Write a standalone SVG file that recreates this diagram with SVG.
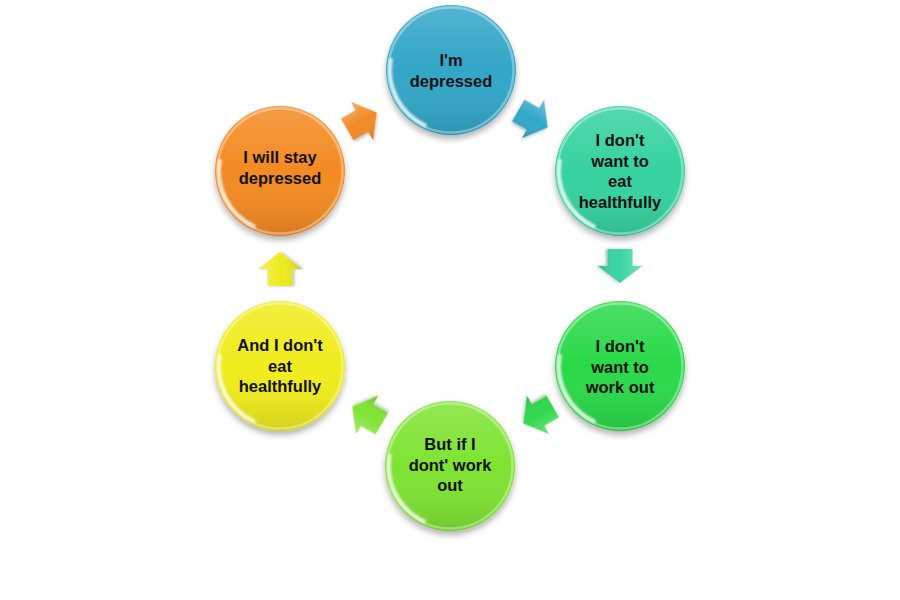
<svg xmlns="http://www.w3.org/2000/svg" width="900" height="600" viewBox="0 0 900 600">
<defs>
<style>
.lbl{font-family:"Liberation Sans",Arial,sans-serif;font-weight:bold;font-size:16.5px;fill:#111;text-anchor:middle}
.shade{fill:url(#shadeG)}
.rim{fill:none;stroke:#fff;stroke-opacity:0.35;stroke-width:2.5}
.hl{fill:none;stroke:#fff;stroke-width:3.5;stroke-linecap:round;opacity:0.85;filter:url(#soft)}
.arr{filter:url(#ash)}
</style>
<linearGradient id="shadeG" x1="0" y1="0" x2="0" y2="1">
<stop offset="0" stop-color="#fff" stop-opacity="0.16"/>
<stop offset="0.5" stop-color="#fff" stop-opacity="0"/>
<stop offset="1" stop-color="#000" stop-opacity="0.12"/>
</linearGradient>
<linearGradient id="arrG" x1="0" y1="0" x2="0" y2="1">
<stop offset="0" stop-color="#fff" stop-opacity="0.3"/>
<stop offset="0.5" stop-color="#fff" stop-opacity="0"/>
<stop offset="1" stop-color="#000" stop-opacity="0.15"/>
</linearGradient>
<filter id="shadow" x="-30%" y="-30%" width="160%" height="170%">
<feGaussianBlur in="SourceAlpha" stdDeviation="3"/>
<feOffset dx="0" dy="4" result="b"/>
<feComponentTransfer><feFuncA type="linear" slope="0.3"/></feComponentTransfer>
<feMerge><feMergeNode/><feMergeNode in="SourceGraphic"/></feMerge>
</filter>
<filter id="ash" x="-30%" y="-30%" width="160%" height="170%">
<feGaussianBlur in="SourceAlpha" stdDeviation="1.5"/>
<feOffset dx="0" dy="2"/>
<feComponentTransfer><feFuncA type="linear" slope="0.25"/></feComponentTransfer>
<feMerge><feMergeNode/><feMergeNode in="SourceGraphic"/></feMerge>
</filter>
<filter id="soft" x="-50%" y="-50%" width="200%" height="200%">
<feGaussianBlur stdDeviation="1"/>
</filter>
<path id="hlp" d="M -25.8 55.3 A 61 61 0 0 1 -60.1 -10.6"/>
<polygon id="ar" points="-17,-12.5 0,-12.5 0,-22 17,0 0,22 0,12.5 -17,12.5"/>
</defs>
<rect width="900" height="600" fill="#fff"/>

<g id="connectors">
<g transform="translate(533,119) rotate(30)" class="arr"><use href="#ar" fill="#31a7c8"/><use href="#ar" fill="url(#arrG)"/></g>
<g transform="translate(620,266) rotate(90)" class="arr"><use href="#ar" fill="#38d5a2"/><use href="#ar" fill="url(#arrG)"/></g>
<g transform="translate(538,415) rotate(150)" class="arr"><use href="#ar" fill="#2fd94c"/><use href="#ar" fill="url(#arrG)"/></g>
<g transform="translate(367,415) rotate(210)" class="arr"><use href="#ar" fill="#80e334"/><use href="#ar" fill="url(#arrG)"/></g>
<g transform="translate(280,269) rotate(270)" class="arr"><use href="#ar" fill="#eeeb1e"/><use href="#ar" fill="url(#arrG)"/></g>
<g transform="translate(362,121) rotate(-30)" class="arr"><use href="#ar" fill="#f28a26"/><use href="#ar" fill="url(#arrG)"/></g>
</g>

<g id="n1" transform="translate(451,70)">
<circle r="65" fill="#31a6c7" filter="url(#shadow)"/>
<circle r="65" class="shade"/>
<circle r="62.5" class="rim"/>
<use href="#hlp" class="hl"/>
<text class="lbl" x="0" y="-4">I'm</text>
<text class="lbl" x="0" y="16.5">depressed</text>
</g>

<g id="n2" transform="translate(620,171)">
<circle r="65" fill="#35d29f" filter="url(#shadow)"/>
<circle r="65" class="shade"/>
<circle r="62.5" class="rim"/>
<use href="#hlp" class="hl"/>
<text class="lbl" x="0" y="-25">I don't</text>
<text class="lbl" x="0" y="-4.5">want to</text>
<text class="lbl" x="0" y="16">eat</text>
<text class="lbl" x="0" y="36.5">healthfully</text>
</g>

<g id="n3" transform="translate(620,366)">
<circle r="65" fill="#2cd949" filter="url(#shadow)"/>
<circle r="65" class="shade"/>
<circle r="62.5" class="rim"/>
<use href="#hlp" class="hl"/>
<text class="lbl" x="0" y="-14">I don't</text>
<text class="lbl" x="0" y="6.5">want to</text>
<text class="lbl" x="0" y="27">work out</text>
</g>

<g id="n4" transform="translate(450,466)">
<circle r="65" fill="#7fe330" filter="url(#shadow)"/>
<circle r="65" class="shade"/>
<circle r="62.5" class="rim"/>
<use href="#hlp" class="hl"/>
<text class="lbl" x="0" y="-16">But if I</text>
<text class="lbl" x="0" y="4.5">dont' work</text>
<text class="lbl" x="0" y="25">out</text>
</g>

<g id="n5" transform="translate(280,366)">
<circle r="65" fill="#f0ec1c" filter="url(#shadow)"/>
<circle r="65" class="shade"/>
<circle r="62.5" class="rim"/>
<use href="#hlp" class="hl"/>
<text class="lbl" x="0" y="-15">And I don't</text>
<text class="lbl" x="0" y="5.5">eat</text>
<text class="lbl" x="0" y="26">healthfully</text>
</g>

<g id="n6" transform="translate(280,171)">
<circle r="65" fill="#f38a24" filter="url(#shadow)"/>
<circle r="65" class="shade"/>
<circle r="62.5" class="rim"/>
<use href="#hlp" class="hl"/>
<text class="lbl" x="0" y="-8">I will stay</text>
<text class="lbl" x="0" y="13">depressed</text>
</g>
</svg>
